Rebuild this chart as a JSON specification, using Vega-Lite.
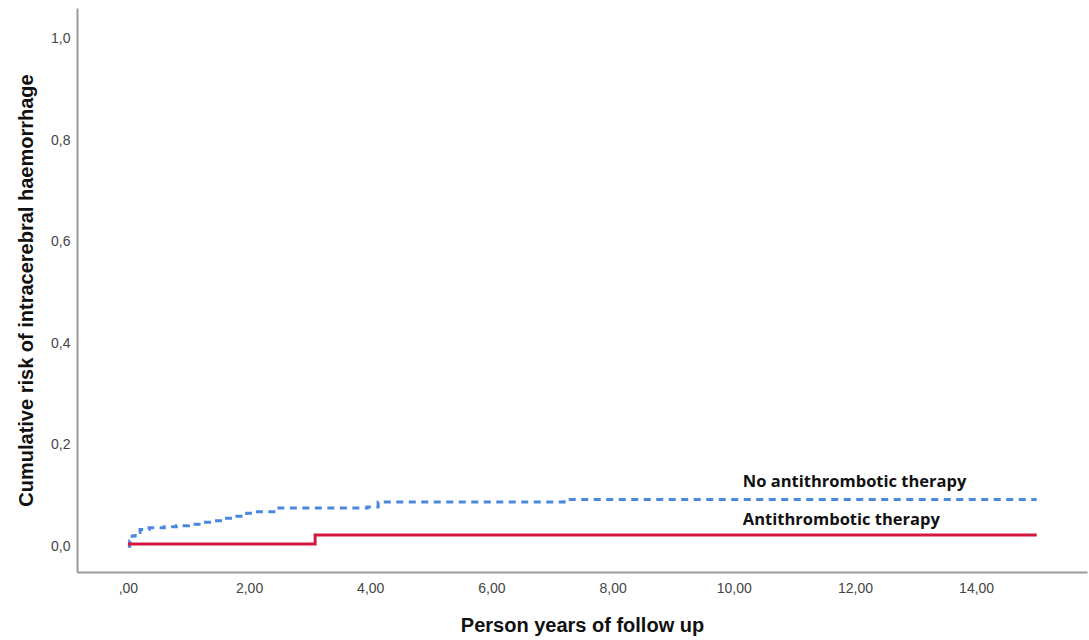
{
  "$schema": "https://vega.github.io/schema/vega-lite/v6.json",
  "width": 1010,
  "height": 564,
  "autosize": {"type": "none"},
  "padding": {"left": 77, "top": 8, "right": 2, "bottom": 68},
  "background": "white",
  "config": {
    "view": {"stroke": null},
    "font": "Liberation Sans"
  },
  "layer": [
    {
      "data": {
        "values": [
          {"group": "No antithrombotic therapy", "years": 0, "risk": 0},
          {"group": "No antithrombotic therapy", "years": 0.03, "risk": 0.01},
          {"group": "No antithrombotic therapy", "years": 0.07, "risk": 0.02},
          {"group": "No antithrombotic therapy", "years": 0.12, "risk": 0.027},
          {"group": "No antithrombotic therapy", "years": 0.2, "risk": 0.033},
          {"group": "No antithrombotic therapy", "years": 0.35, "risk": 0.036},
          {"group": "No antithrombotic therapy", "years": 0.6, "risk": 0.038},
          {"group": "No antithrombotic therapy", "years": 0.8, "risk": 0.04},
          {"group": "No antithrombotic therapy", "years": 1.0, "risk": 0.043},
          {"group": "No antithrombotic therapy", "years": 1.2, "risk": 0.047},
          {"group": "No antithrombotic therapy", "years": 1.4, "risk": 0.05},
          {"group": "No antithrombotic therapy", "years": 1.57, "risk": 0.055},
          {"group": "No antithrombotic therapy", "years": 1.75, "risk": 0.059},
          {"group": "No antithrombotic therapy", "years": 1.96, "risk": 0.065},
          {"group": "No antithrombotic therapy", "years": 2.1, "risk": 0.068},
          {"group": "No antithrombotic therapy", "years": 2.46, "risk": 0.075},
          {"group": "No antithrombotic therapy", "years": 3.95, "risk": 0.077},
          {"group": "No antithrombotic therapy", "years": 4.13, "risk": 0.087},
          {"group": "No antithrombotic therapy", "years": 7.2, "risk": 0.092},
          {"group": "No antithrombotic therapy", "years": 15.0, "risk": 0.092},
          {"group": "Antithrombotic therapy", "years": 0, "risk": 0.004},
          {"group": "Antithrombotic therapy", "years": 3.09, "risk": 0.022},
          {"group": "Antithrombotic therapy", "years": 15.0, "risk": 0.022}
        ]
      },
      "mark": {"type": "line", "interpolate": "step-after", "strokeWidth": 3, "strokeCap": "butt"},
      "encoding": {
        "x": {
          "field": "years", "type": "quantitative",
          "scale": {"domain": [-0.84, 15.83], "nice": false, "zero": false},
          "axis": {
            "title": "Person years of follow up",
            "values": [0, 2, 4, 6, 8, 10, 12, 14],
            "labelExpr": "datum.value == 0 ? ',00' : datum.value + ',00'",
            "ticks": false,
            "grid": false,
            "domainColor": "#9a9a9a",
            "domainWidth": 2,
            "labelColor": "#444444",
            "labelFontSize": 14,
            "labelPadding": 9,
            "titleFontSize": 20,
            "titleFontWeight": "bold",
            "titleColor": "#111111",
            "titlePadding": 20
          }
        },
        "y": {
          "field": "risk", "type": "quantitative",
          "scale": {"domain": [-0.051, 1.061], "nice": false, "zero": false},
          "axis": {
            "title": "Cumulative risk of intracerebral haemorrhage",
            "values": [0, 0.2, 0.4, 0.6, 0.8, 1.0],
            "labelExpr": "replace(format(datum.value, '.1f'), '.', ',')",
            "ticks": false,
            "grid": false,
            "domainColor": "#9a9a9a",
            "domainWidth": 2,
            "labelColor": "#444444",
            "labelFontSize": 14,
            "labelPadding": 7,
            "titleFontSize": 20,
            "titleFontWeight": "bold",
            "titleColor": "#111111",
            "titlePadding": 14
          }
        },
        "color": {
          "field": "group", "type": "nominal",
          "scale": {"domain": ["No antithrombotic therapy", "Antithrombotic therapy"], "range": ["#4a88e0", "#d4173f"]},
          "legend": null
        },
        "strokeDash": {
          "field": "group", "type": "nominal",
          "scale": {"domain": ["No antithrombotic therapy", "Antithrombotic therapy"], "range": [[7, 5.5], [1, 0]]},
          "legend": null
        }
      }
    },
    {
      "data": {
        "values": [
          {"label": "No antithrombotic therapy", "years": 10.15, "risk": 0.126},
          {"label": "Antithrombotic therapy", "years": 10.15, "risk": 0.051}
        ]
      },
      "mark": {"type": "text", "align": "left", "baseline": "middle", "font": "Open Sans", "fontWeight": "bold", "fontSize": 16.5, "color": "#111111"},
      "encoding": {
        "x": {"field": "years", "type": "quantitative"},
        "y": {"field": "risk", "type": "quantitative"},
        "text": {"field": "label"}
      }
    }
  ]
}
